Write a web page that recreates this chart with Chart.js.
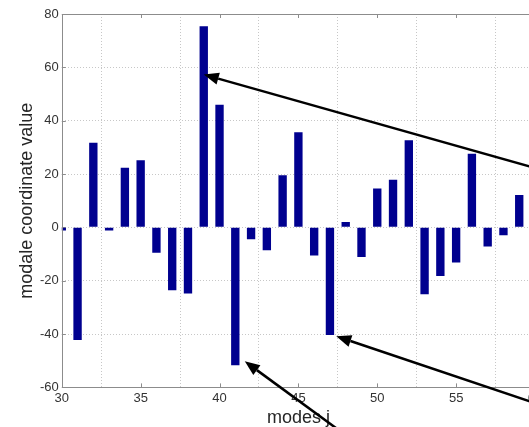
<!DOCTYPE html>
<html>
<head>
<meta charset="utf-8">
<script src="https://cdn.jsdelivr.net/npm/chart.js@4.4.1/dist/chart.umd.min.js"></script>
<style>
  html, body { margin: 0; padding: 0; background: #fff; overflow: hidden; }
  #wrap { width: 560px; height: 427px; }
</style>
</head>
<body>
<div id="wrap"><canvas id="modesChart"></canvas></div>
<script>
// Mode numbers on the x axis
const modes = [30, 31, 32, 33, 34, 35, 36, 37, 38, 39, 40, 41, 42, 43, 44,
  45, 46, 47, 48, 49, 50, 51, 52, 53, 54, 55, 56, 57, 58, 59];

// Modal coordinate value of each mode
const coordValues = [-1.2, -42.2, 31.7, -1.2, 22.4, 25.2, -9.5, -23.6, -24.8, 75.4,
  46.0, -51.7, -4.5, -8.6, 19.5, 35.7, -10.5, -40.4, 2.0, -11.1,
  14.6, 17.9, 32.7, -25.1, -18.2, -13.2, 27.6, -7.2, -3.0, 12.1];

// Tick labels
const xTicks = [30, 35, 40, 45, 50, 55, 60];
const yTicks = [-60, -40, -20, 0, 20, 40, 60, 80];

// Pointer arrows, in data units (mode, value): head and tail
const arrowHeads = [[39.0, 57.3], [41.6, -50.2], [47.4, -40.8]];
const arrowTails = [[61.6, 19.6], [48.6, -80.5], [61.6, -69.1]];

const barColor = "#00008f";
const frameColor = "#8c8c8c";

document.addEventListener("DOMContentLoaded", () => {
  const ctx = document.getElementById("modesChart").getContext("2d");

  // Frame round the plot area, inward ticks and the arrows
  const decorations = {
    id: "decorations",
    beforeDatasetsDraw(chart) {
      const { ctx, chartArea: a, scales } = chart;
      ctx.save();
      ctx.setLineDash([]);
      ctx.strokeStyle = frameColor;
      ctx.lineWidth = 1;
      ctx.beginPath();
      xTicks.forEach(t => {
        const px = Math.round(scales.x.getPixelForValue(t)) + 0.5;
        ctx.moveTo(px, a.bottom); ctx.lineTo(px, a.bottom - 4);
        ctx.moveTo(px, a.top); ctx.lineTo(px, a.top + 4);
      });
      yTicks.forEach(t => {
        const py = Math.round(scales.y.getPixelForValue(t)) + 0.5;
        ctx.moveTo(a.left, py); ctx.lineTo(a.left + 4, py);
      });
      ctx.stroke();
      ctx.restore();
    },
    afterDraw(chart) {
      const { ctx, chartArea: a, scales } = chart;
      ctx.save();
      ctx.setLineDash([]);
      ctx.strokeStyle = frameColor;
      ctx.lineWidth = 1;
      ctx.strokeRect(Math.round(a.left) + 0.5, Math.round(a.top) + 0.5,
        Math.round(a.right - a.left), Math.round(a.bottom - a.top));

      // arrows
      ctx.strokeStyle = "#000";
      ctx.fillStyle = "#000";
      ctx.lineWidth = 2.5;
      arrowHeads.forEach((h, i) => {
        const hx = scales.x.getPixelForValue(h[0]);
        const hy = scales.y.getPixelForValue(h[1]);
        const tx = scales.x.getPixelForValue(arrowTails[i][0]);
        const ty = scales.y.getPixelForValue(arrowTails[i][1]);
        const ang = Math.atan2(hy - ty, hx - tx);
        const len = 15, half = 6;
        const bx = hx - len * Math.cos(ang);
        const by = hy - len * Math.sin(ang);
        ctx.beginPath();
        ctx.moveTo(tx, ty);
        ctx.lineTo(bx, by);
        ctx.stroke();
        ctx.beginPath();
        ctx.moveTo(hx, hy);
        ctx.lineTo(bx + half * Math.sin(ang), by - half * Math.cos(ang));
        ctx.lineTo(bx - half * Math.sin(ang), by + half * Math.cos(ang));
        ctx.closePath();
        ctx.fill();
      });
      ctx.restore();
    }
  };

  const gridStyle = {
    color: "rgba(0,0,0,0.22)",
    drawTicks: false
  };

  new Chart(ctx, {
    type: "bar",
    data: {
      datasets: [{
        data: modes.map((m, i) => ({ x: m, y: coordValues[i] })),
        backgroundColor: barColor,
        borderWidth: 0,
        categoryPercentage: 1,
        barPercentage: 0.53
      }]
    },
    options: {
      responsive: true,
      maintainAspectRatio: false,
      animation: false,
      layout: { padding: { left: 18, top: 14, right: 25, bottom: 0 } },
      plugins: {
        legend: { display: false },
        tooltip: { enabled: false }
      },
      scales: {
        x: {
          type: "linear",
          min: 30,
          max: 60,
          offset: false,
          grid: gridStyle,
          border: { display: false, dash: [1, 2] },
          ticks: {
            stepSize: 5,
            padding: 3,
            maxRotation: 0,
            color: "#333",
            font: { family: "Liberation Sans", size: 13 }
          },
          afterBuildTicks: axis => { axis.ticks = xTicks.map(v => ({ value: v })); },
          title: {
            display: true,
            text: "modes j",
            color: "#262626",
            font: { family: "Liberation Sans", size: 18, lineHeight: 1 },
            padding: { top: 0, bottom: 0 }
          }
        },
        y: {
          min: -60,
          max: 80,
          grid: gridStyle,
          border: { display: false, dash: [1, 2] },
          ticks: {
            stepSize: 20,
            padding: 3,
            color: "#333",
            font: { family: "Liberation Sans", size: 13 }
          },
          afterBuildTicks: axis => { axis.ticks = yTicks.map(v => ({ value: v })); },
          title: {
            display: true,
            text: "modale coordinate value",
            color: "#262626",
            font: { family: "Liberation Sans", size: 18, lineHeight: 1 },
            padding: { top: 0, bottom: 1 }
          }
        }
      }
    },
    plugins: [decorations]
  });
});
</script>
</body>
</html>
